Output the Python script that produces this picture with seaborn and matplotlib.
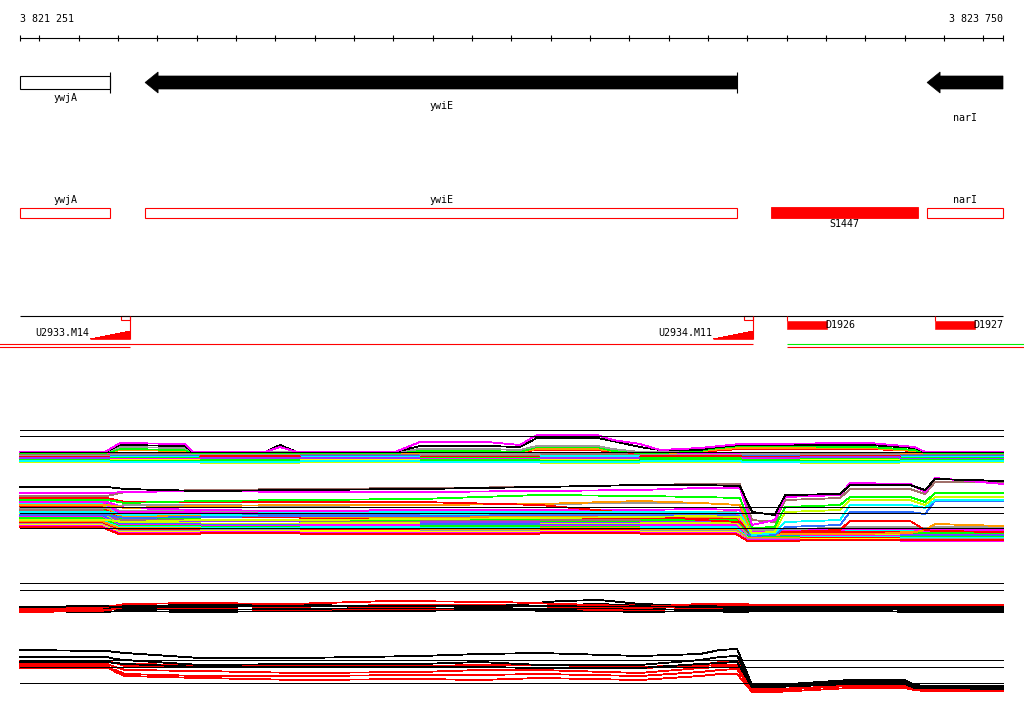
import numpy as np
import pandas as pd
import matplotlib
matplotlib.use("Agg")
import matplotlib.pyplot as plt
from matplotlib.patches import Polygon, Rectangle
import seaborn as sns

sns.set_theme(style="white")
plt.rcParams["font.family"] = ["DejaVu Sans Mono"]
plt.rcParams["text.color"] = "black"

VIEW_START = 3821251
VIEW_END = 3823750

# gene track
gene_names = ["ywjA", "ywiE", "narI"]
gene_start = [3821251, 3821569, 3823557]
gene_end = [3821480, 3823074, 3823750]
gene_strand = ["+", "-", "-"]

# annotation track
annot_names = ["ywjA", "ywiE", "S1447", "narI"]
annot_start = [3821251, 3821569, 3823160, 3823557]
annot_end = [3821480, 3823074, 3823534, 3823750]
annot_kind = ["gene", "gene", "segment", "gene"]

# promoters (upstream) and terminators (downstream)
prom_names = ["U2933.M14", "U2934.M11"]
prom_start = [3821429, 3823013]
prom_end = [3821531, 3823114]
term_names = ["D1926", "D1927"]
term_start = [3823201, 3823577]
term_end = [3823303, 3823679]

# transcription units
tu_start = [3821000, 3821000, 3823201, 3823201]
tu_end = [3823114, 3821531, 3824000, 3824000]
tu_kind = ["main", "low", "alt", "low"]

# ---- expression panel A, condition set 1 ----
A1_KNOTS = [3821251, 3821467, 3821505, 3821670, 3821691, 3821874, 3821912, 3821955,
            3822204, 3822268, 3822438, 3822522, 3822565, 3822718, 3822758, 3822827,
            3822878, 3822980, 3823005, 3823081, 3823412, 3823526, 3823552, 3823750]
A1_MAGENTA = [98, 98, 107, 106, 98, 98, 103, 98, 98, 108, 108, 105, 115, 115, 110, 106, 100, 102, 103, 106, 107, 103, 98, 98]
A1_BLACK = [98, 98, 105, 104, 98, 98, 105, 98, 98, 104, 104, 103, 112, 112, 109, 103, 100, 100, 102, 105, 105, 102, 98, 98]
A1_GRAY = [98, 98, 103, 102, 98, 98, 98, 98, 98, 101, 101, 100, 104, 104, 101, 98, 98, 101, 103, 106, 106, 102, 98, 98]
A1_GREEN = [97, 97, 101, 100, 97, 97, 97, 97, 97, 99, 99, 98, 103, 103, 99, 97, 97, 99, 101, 104, 103, 100, 97, 97]
A1_ORANGE = [97, 97, 100, 99, 97, 97, 97, 97, 97, 99, 98, 98, 101, 101, 99, 97, 97, 98, 100, 102, 102, 99, 97, 97]
A1_RED = [97, 97, 103, 102, 97, 97, 97, 97, 97, 100, 99, 98, 100, 100, 98, 97, 97, 98, 99, 101, 101, 99, 97, 97]

BAND_EDGES = [3821251, 3821480, 3821709, 3821963, 3822268, 3822573, 3822827, 3823086, 3823234, 3823488, 3823750]

A1_BAND_COLORS = ["#ff9900", "#ff00ff", "#a0706a", "#999999", "#2f6fff", "#00ffff", "#ff0000",
                  "#00ff00", "#9933ff", "#ff00ff", "#ffff00", "#00ff00", "#ccff00", "#00ffff"]
A1_BAND = [
    [97, 96, 97, 96, 96, 97, 96, 97, 96, 97],
    [96, 95, 96, 95, 94, 95, 96, 95, 94, 95],
    [95, 96, 94, 95, 95, 96, 94, 95, 96, 95],
    [94, 95, 95, 94, 96, 94, 95, 96, 95, 94],
    [93, 94, 93, 94, 93, 93, 92, 94, 93, 94],
    [92, 93, 92, 93, 92, 94, 93, 92, 92, 93],
    [93, 92, 94, 92, 93, 92, 94, 93, 94, 92],
    [91, 92, 91, 91, 92, 91, 92, 91, 91, 92],
    [92, 91, 92, 92, 91, 92, 91, 92, 93, 91],
    [90, 91, 90, 90, 91, 90, 90, 91, 90, 90],
    [89, 90, 89, 90, 89, 90, 89, 89, 90, 89],
    [90, 89, 90, 89, 90, 89, 91, 90, 89, 90],
    [88, 88, 87, 88, 88, 87, 88, 88, 87, 88],
    [89, 88, 88, 89, 88, 88, 89, 88, 88, 89],
]

# ---- expression panel A, condition set 2 ----
A2_KNOTS = [3821251, 3821472, 3821518, 3821709, 3821963, 3822268, 3822573, 3822827, 3822980,
            3823081, 3823112, 3823170, 3823196, 3823336, 3823361, 3823514, 3823552, 3823577, 3823750]
A2_BLACK = [63, 63, 61, 59, 60, 61, 63, 65, 65, 64, 38, 35, 55, 56, 65, 65, 60, 71, 69]
A2_MAGENTA = [57, 57, 58, 59, 58, 58, 59, 60, 62, 62, 25, 30, 53, 55, 67, 66, 58, 72, 66]
A2_BROWN = [54, 54, 58, 60, 61, 62, 63, 65, 66, 66, 30, 28, 50, 52, 61, 61, 56, 68, 68]
A2_GREEN = [50, 50, 47, 49, 50, 51, 55, 54, 53, 52, 22, 23, 43, 45, 53, 53, 48, 57, 57]
A2_YELLOW = [30, 30, 28, 30, 30, 31, 32, 33, 34, 33, 17, 18, 38, 40, 50, 50, 45, 53, 53]
A2_CYAN = [38, 38, 35, 36, 37, 38, 38, 38, 38, 37, 15, 17, 28, 30, 45, 45, 42, 50, 50]
A2_BLUE = [35, 35, 32, 33, 34, 34, 35, 35, 35, 34, 14, 15, 23, 25, 38, 38, 36, 49, 49]
A2_RED = [52, 52, 48, 48, 48, 48, 45, 36, 30, 28, 16, 17, 18, 20, 29, 29, 20, 19, 18]
A2_ORANGE = [45, 45, 42, 44, 45, 45, 46, 49, 47, 45, 15, 15, 16, 16, 16, 17, 20, 26, 24]
A2_GRAY = [42, 42, 45, 45, 44, 45, 46, 47, 47, 45, 20, 20, 21, 22, 23, 23, 22, 23, 23]
A2_MAGENTA2 = [48, 48, 42, 40, 39, 40, 40, 40, 41, 40, 18, 19, 20, 20, 21, 21, 19, 20, 20]

A2_BAND_COLORS = ["#999999", "#2f6fff", "#ff00ff", "#00ffff", "#ff9900", "#ff0000", "#00ff00",
                  "#a0706a", "#9933ff", "#ccff00", "#2f6fff", "#ff00ff", "#00ff00", "#00ffff",
                  "#ff9900", "#ff0000", "#999999", "#ffff00", "#ff00ff", "#ff0000"]
A2_BAND = [
    [52, 39, 38, 39, 38, 39, 38, 21, 20, 21],
    [50, 37, 36, 35, 36, 34, 35, 20, 19, 20],
    [48, 38, 37, 38, 37, 36, 37, 19, 20, 18],
    [46, 35, 34, 34, 35, 33, 32, 18, 19, 19],
    [45, 34, 33, 32, 33, 34, 33, 18, 17, 18],
    [43, 32, 33, 31, 30, 32, 31, 17, 18, 16],
    [41, 31, 30, 30, 31, 29, 30, 16, 16, 17],
    [40, 30, 29, 28, 29, 30, 28, 15, 16, 15],
    [38, 28, 29, 27, 28, 27, 28, 15, 14, 15],
    [36, 27, 26, 27, 25, 26, 27, 14, 15, 14],
    [35, 26, 25, 24, 26, 25, 24, 14, 13, 14],
    [33, 25, 24, 25, 23, 24, 25, 13, 14, 12],
    [32, 24, 23, 22, 24, 23, 22, 13, 12, 13],
    [30, 23, 22, 23, 22, 21, 23, 12, 13, 12],
    [29, 22, 21, 20, 21, 22, 20, 12, 11, 11],
    [27, 20, 19, 20, 19, 20, 19, 11, 12, 11],
    [26, 19, 20, 18, 19, 18, 19, 11, 10, 11],
    [25, 18, 19, 19, 18, 19, 18, 10, 11, 10],
    [24, 17, 18, 17, 17, 18, 17, 10, 10, 9],
    [23, 16, 17, 16, 16, 17, 16, 9, 10, 10],
]
A_REFS = [120, 114, 98, 43, 37, 22]

# ---- expression panel B ----
B1_KNOTS = [3821251, 3821454, 3821518, 3821709, 3821937, 3822191, 3822471, 3822624,
            3822725, 3822827, 3822980, 3823081, 3823132, 3823437, 3823514, 3823750]
B1_RED1 = [91, 92, 96, 97, 96, 99, 98, 96, 95, 93, 96, 96, 95, 95, 95, 95]
B1_BLACK1 = [92, 92, 93, 93, 94, 94, 94, 99, 100, 96, 94, 93, 93, 93, 93, 93]
B1_RED2 = [90, 90, 94, 94, 93, 95, 95, 93, 93, 92, 94, 94, 94, 93, 94, 94]
B1_RED3 = [88, 89, 92, 91, 90, 91, 91, 91, 90, 90, 91, 91, 92, 92, 92, 91]
B1_BLACK2 = [91, 91, 91, 90, 91, 92, 91, 91, 92, 91, 90, 90, 90, 91, 90, 90]
B1_BLACK3 = [89, 88, 89, 88, 89, 89, 90, 89, 89, 88, 89, 88, 89, 89, 88, 88]
B1_BLACK4 = [93, 94, 94, 95, 95, 94, 93, 95, 96, 94, 93, 92, 92, 92, 92, 92]
B1_RED4 = [89, 89, 93, 93, 94, 93, 94, 94, 94, 95, 93, 93, 93, 94, 93, 93]

B2_KNOTS = [3821251, 3821472, 3821493, 3821518, 3821709, 3821963, 3822268, 3822421, 3822573, 3822827,
            3822980, 3823030, 3823074, 3823112, 3823170, 3823361, 3823501, 3823526, 3823552, 3823750]
B2_BLACK_A = [50, 49, 48, 47, 42, 42, 44, 46, 47, 44, 46, 50, 51, 15, 15, 20, 20, 15, 14, 14]
B2_BLACK_B = [43, 43, 41, 40, 35, 36, 36, 38, 35, 35, 40, 43, 44, 14, 14, 18, 18, 14, 13, 12]
B2_BLACK_C = [38, 38, 37, 36, 33, 33, 33, 33, 32, 32, 36, 37, 38, 13, 13, 16, 16, 12, 12, 11]
B2_RED_A = [39, 39, 37, 34, 33, 33, 34, 35, 35, 33, 35, 38, 39, 9, 9, 16, 16, 12, 11, 11]
B2_RED_B = [36, 36, 33, 30, 29, 27, 28, 30, 30, 27, 32, 33, 34, 10, 10, 14, 14, 11, 10, 10]
B2_RED_C = [34, 34, 28, 24, 22, 20, 21, 20, 22, 20, 24, 26, 26, 8, 8, 12, 12, 10, 9, 9]
B2_RED_D = [38, 38, 37, 36, 35, 34, 34, 33, 32, 32, 34, 35, 35, 11, 11, 14, 14, 12, 11, 11]
B2_RED_E = [32, 32, 30, 26, 24, 24, 25, 25, 26, 24, 28, 30, 31, 9, 9, 16, 16, 11, 10, 10]
B_REFS = [117, 110, 94, 40, 33, 17]

MAG, GRN, CYN, YEL, ORG = "#ff00ff", "#00ff00", "#00ffff", "#ccff00", "#ff9900"
RED, BLU, GRY, BRN, BLK = "#ff0000", "#2f6fff", "#999999", "#a0706a", "#000000"
LW = 0.6
FS = 7.2

bpp = (VIEW_END - VIEW_START) / 983
xlim = (VIEW_START - 20 * bpp, VIEW_START + 1004 * bpp)

fig = plt.figure(figsize=(10.24, 7.14), dpi=100)
ax = fig.add_axes([0, 0, 1, 1])
ax.set_xlim(*xlim)
ax.set_ylim(714, 0)
ax.axis("off")


def draw_lines(axp, knots, series, colors, lw=LW):
    rows, pal = [], {}
    for i, (vals, col) in enumerate(zip(series, colors)):
        key = f"s{i:02d}"
        pal[key] = col
        xs = knots[i] if isinstance(knots[0], list) else knots
        rows += [(key, x, v) for x, v in zip(xs, vals)]
    df = pd.DataFrame(rows, columns=["line", "pos", "signal"])
    sns.lineplot(data=df, x="pos", y="signal", hue="line", palette=pal, estimator=None,
                 sort=False, legend=False, ax=axp, lw=lw, antialiased=False)


def band_path(edges, vals, widths):
    xs, ys = [], []
    n = len(vals)
    for i, v in enumerate(vals):
        left = edges[i] + (widths[i] / 2 if i > 0 else 0)
        right = edges[i + 1] - (widths[i + 1] / 2 if i + 1 < n else 0)
        xs += [left, right]
        ys += [v, v]
    return xs, ys


# ruler
ax.hlines(38, VIEW_START, VIEW_END, color="black", lw=0.8)
ticks = [VIEW_START] + list(np.arange(3821300, VIEW_END, 100)) + [VIEW_END]
ax.vlines(ticks, 35, 41, color="black", lw=0.8)
ax.text(VIEW_START, 19.5, "3 821 251", ha="left", va="center", fontsize=FS)
ax.text(VIEW_END, 19.5, "3 823 750", ha="right", va="center", fontsize=FS)

# gene track
label_y = {"ywjA": 98, "ywiE": 106, "narI": 118}
for name, s, e, strand in zip(gene_names, gene_start, gene_end, gene_strand):
    yc = 82.5
    if strand == "+":
        ax.add_patch(Rectangle((s, yc - 6.5), e - s, 13, facecolor="white", edgecolor="black", lw=0.8))
    else:
        hl = 13 * bpp
        pts = [(s, yc), (s + hl, yc - 10.5), (s + hl, yc - 6.5), (e, yc - 6.5),
               (e, yc + 6.5), (s + hl, yc + 6.5), (s + hl, yc + 10.5)]
        ax.add_patch(Polygon(pts, closed=True, facecolor="black", edgecolor="black", lw=0.5))
    if e < VIEW_END:
        ax.vlines(e, 72, 93, color="black", lw=0.8)
    ax.text((s + e) / 2, label_y[name], name, ha="center", va="center", fontsize=FS)

# annotation track
for name, s, e, kind in zip(annot_names, annot_start, annot_end, annot_kind):
    if kind == "segment":
        ax.add_patch(Rectangle((s, 207), e - s, 11, facecolor="red", edgecolor="red", lw=0.6))
        ax.text((s + e) / 2, 224, name, ha="center", va="center", fontsize=FS)
    else:
        ax.add_patch(Rectangle((s, 207.5), e - s, 10, facecolor="white", edgecolor="red", lw=0.8))
        ax.text((s + e) / 2, 200, name, ha="center", va="center", fontsize=FS)

# regulatory track
ax.hlines(315.5, VIEW_START, VIEW_END, color="black", lw=0.8)
stair = [1, 1.5, 2.5, 3.5, 4.5, 5.5, 6.5, 7.5]
for name, s, e in zip(prom_names, prom_start, prom_end):
    xs = np.linspace(s, e, len(stair) + 1)
    ys = stair + [stair[-1]]
    ax.fill_between(xs, 338.5, [338.5 - h for h in ys], step="post", color="red", lw=0,
                    antialiased=False)
    ax.hlines(338.5, s, e, color="red", lw=0.6)
    ax.vlines(e, 315.5, 338.5, color="red", lw=0.8)
    ax.add_patch(Rectangle((e - 9 * bpp, 315.5), 9 * bpp, 4,
                           facecolor="none", edgecolor="red", lw=0.8))
    ax.text(s - 1 * bpp, 332.5, name, ha="right", va="center", fontsize=FS)
for name, s, e in zip(term_names, term_start, term_end):
    ax.vlines(s, 315.5, 321, color="red", lw=0.8)
    ax.add_patch(Rectangle((s, 320.5), e - s, 8, facecolor="red", edgecolor="red", lw=0.4))
    ax.text(e - 2 * bpp, 324.5, name, ha="left", va="center", fontsize=FS)

tu_y = {"main": 343.5, "low": 346.5, "alt": 343.5}
tu_col = {"main": "red", "low": "red", "alt": "#00ee00"}
for s, e, k in zip(tu_start, tu_end, tu_kind):
    ax.hlines(tu_y[k], s, e, color=tu_col[k], lw=0.8)

# expression panel A
axa = fig.add_axes([0, 1 - 550 / 714, 1, 130 / 714])
axa.set_xlim(*xlim)
axa.set_ylim(0, 130)
axa.axis("off")

w1 = [0] + [6] * (len(BAND_EDGES) - 2) + [0]
bx, by = [], []
for vals in A1_BAND:
    x, y = band_path(BAND_EDGES, vals, w1)
    bx.append(x)
    by.append(y)
draw_lines(axa, bx, by, A1_BAND_COLORS)
draw_lines(axa, A1_KNOTS, [A1_RED, A1_ORANGE, A1_GREEN, A1_GRAY, A1_BLACK, A1_MAGENTA],
           [RED, ORG, GRN, GRY, BLK, MAG])

w2 = [0, 45, 6, 6, 6, 6, 6, 30, 6, 6, 0]
bx, by = [], []
for vals in A2_BAND:
    x, y = band_path(BAND_EDGES, vals, w2)
    bx.append(x)
    by.append(y)
draw_lines(axa, bx, by, A2_BAND_COLORS)
draw_lines(axa, A2_KNOTS,
           [A2_MAGENTA2, A2_GRAY, A2_ORANGE, A2_RED, A2_BLUE, A2_CYAN, A2_YELLOW, A2_GREEN,
            A2_BROWN, A2_MAGENTA, A2_BLACK],
           [MAG, GRY, ORG, RED, BLU, CYN, YEL, GRN, BRN, MAG, BLK])
axa.hlines(A_REFS, VIEW_START, VIEW_END, color="black", lw=LW, antialiased=False)

# expression panel B
axb = fig.add_axes([0, 1 - 700 / 714, 1, 130 / 714])
axb.set_xlim(*xlim)
axb.set_ylim(0, 130)
axb.axis("off")
draw_lines(axb, B1_KNOTS,
           [B1_BLACK3, B1_RED3, B1_BLACK2, B1_RED2, B1_RED4, B1_BLACK4, B1_BLACK1, B1_RED1],
           [BLK, RED, BLK, RED, RED, BLK, BLK, RED])
draw_lines(axb, B2_KNOTS,
           [B2_RED_C, B2_RED_E, B2_RED_B, B2_RED_D, B2_RED_A, B2_BLACK_C, B2_BLACK_B, B2_BLACK_A],
           [RED, RED, RED, RED, RED, BLK, BLK, BLK])
axb.hlines(B_REFS, VIEW_START, VIEW_END, color="black", lw=LW, antialiased=False)

fig.savefig("out.png", dpi=100)
